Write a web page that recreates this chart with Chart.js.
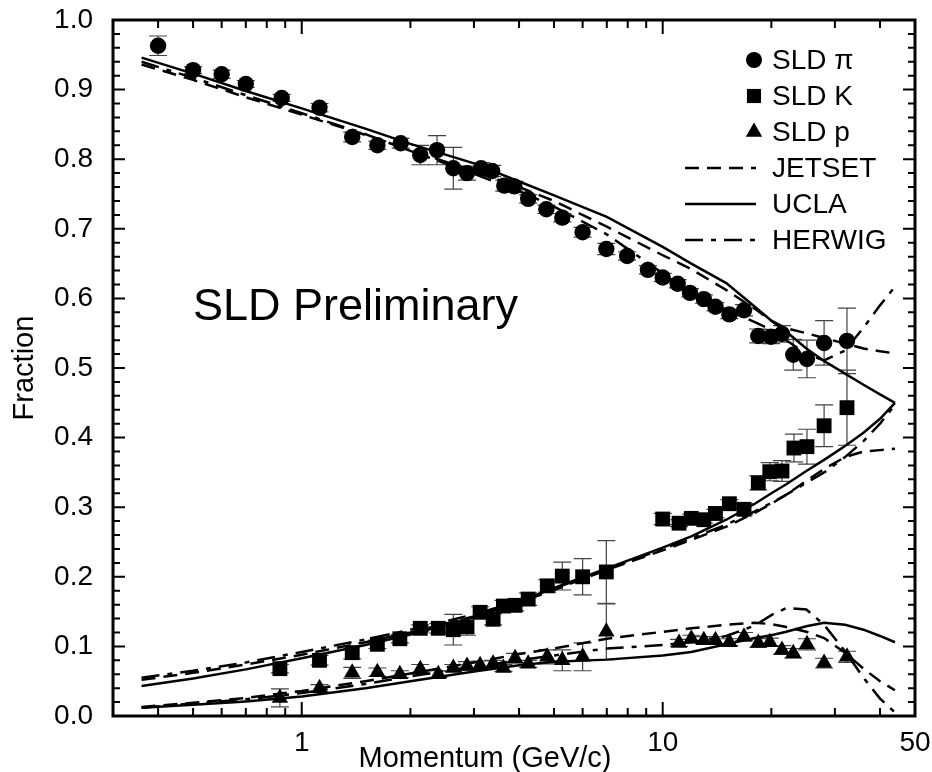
<!DOCTYPE html>
<html>
<head>
<meta charset="utf-8">
<script src="https://cdn.jsdelivr.net/npm/chart.js@4.4.1/dist/chart.umd.min.js"></script>
<style>
  body { margin: 0; background: #fff; }
  canvas { display: block; }
</style>
</head>
<body>
<canvas id="fractionChart" width="932" height="772"></canvas>
<script>
// SLD measured points (momentum in GeV/c, fraction, error)
const pionX = [0.4, 0.5, 0.6, 0.7, 0.88, 1.12, 1.38, 1.62, 1.88, 2.13, 2.37, 2.63, 2.87, 3.14, 3.37, 3.64, 3.88, 4.24, 4.76, 5.27, 6.0, 6.98, 7.97, 9.1, 10.0, 11.0, 11.9, 13.0, 14.0, 15.3, 16.8, 18.4, 19.95, 21.4, 23.0, 25.1, 28.0, 32.4];
const pionY = [0.963, 0.928, 0.922, 0.908, 0.888, 0.874, 0.832, 0.820, 0.823, 0.806, 0.813, 0.787, 0.780, 0.787, 0.783, 0.762, 0.761, 0.743, 0.728, 0.716, 0.695, 0.671, 0.661, 0.641, 0.630, 0.621, 0.608, 0.599, 0.588, 0.577, 0.583, 0.546, 0.545, 0.549, 0.519, 0.513, 0.536, 0.539];
const pionErr = [0.014, 0.005, 0.006, 0.005, 0.005, 0.006, 0.007, 0.006, 0.007, 0.014, 0.021, 0.030, 0.010, 0.008, 0.008, 0.008, 0.007, 0.006, 0.006, 0.006, 0.007, 0.008, 0.006, 0.006, 0.006, 0.006, 0.006, 0.006, 0.006, 0.006, 0.008, 0.010, 0.010, 0.012, 0.022, 0.027, 0.032, 0.047];

const kaonX = [0.87, 1.12, 1.38, 1.62, 1.87, 2.13, 2.39, 2.63, 2.87, 3.12, 3.39, 3.62, 3.9, 4.24, 4.79, 5.27, 6.0, 6.98, 10.0, 11.1, 12.0, 13.0, 14.0, 15.3, 16.8, 18.4, 19.8, 21.4, 23.1, 25.1, 28.0, 32.4];
const kaonY = [0.068, 0.080, 0.091, 0.103, 0.111, 0.126, 0.126, 0.124, 0.128, 0.149, 0.139, 0.158, 0.159, 0.168, 0.187, 0.201, 0.200, 0.207, 0.283, 0.277, 0.284, 0.282, 0.291, 0.305, 0.297, 0.335, 0.351, 0.352, 0.385, 0.387, 0.417, 0.443];
const kaonErr = [0.006, 0.007, 0.009, 0.006, 0.006, 0.005, 0.007, 0.022, 0.012, 0.008, 0.008, 0.008, 0.008, 0.009, 0.009, 0.020, 0.026, 0.045, 0.008, 0.005, 0.006, 0.005, 0.006, 0.006, 0.008, 0.010, 0.013, 0.015, 0.020, 0.025, 0.030, 0.054];

const protonX = [0.87, 1.12, 1.38, 1.62, 1.87, 2.13, 2.39, 2.63, 2.87, 3.12, 3.39, 3.62, 3.9, 4.24, 4.79, 5.27, 6.0, 6.98, 11.1, 12.0, 13.0, 14.0, 15.3, 16.8, 18.4, 19.8, 21.4, 23.0, 25.1, 28.0, 32.4];
const protonY = [0.026, 0.040, 0.062, 0.063, 0.060, 0.067, 0.060, 0.069, 0.072, 0.073, 0.075, 0.069, 0.083, 0.075, 0.085, 0.080, 0.085, 0.121, 0.105, 0.111, 0.109, 0.109, 0.106, 0.114, 0.105, 0.106, 0.095, 0.090, 0.103, 0.076, 0.085];
const protonErr = [0.013, 0.005, 0.008, 0.006, 0.005, 0.007, 0.005, 0.005, 0.006, 0.006, 0.005, 0.005, 0.007, 0.005, 0.010, 0.015, 0.020, 0.040, 0.005, 0.005, 0.005, 0.005, 0.005, 0.006, 0.006, 0.006, 0.006, 0.007, 0.008, 0.007, 0.008];

// model curves
const modelX = [0.36, 0.5, 0.7, 1, 1.5, 2, 3, 4, 5, 7, 10, 12, 15, 18, 20, 22, 25, 28, 32, 36, 40, 44];
const jetsetPi = [0.936, 0.914, 0.889, 0.864, 0.835, 0.813, 0.783, 0.760, 0.740, 0.703, 0.662, 0.642, 0.612, 0.585, 0.568, 0.557, 0.550, 0.543, 0.535, 0.528, 0.524, 0.521];
const jetsetK = [0.052, 0.062, 0.074, 0.088, 0.106, 0.120, 0.143, 0.163, 0.181, 0.210, 0.238, 0.253, 0.272, 0.292, 0.305, 0.318, 0.338, 0.355, 0.372, 0.380, 0.382, 0.384];
const jetsetP = [0.013, 0.019, 0.026, 0.036, 0.050, 0.061, 0.077, 0.089, 0.097, 0.111, 0.121, 0.126, 0.131, 0.134, 0.132, 0.128, 0.121, 0.112, 0.091, 0.068, 0.050, 0.037];
const uclaPi = [0.946, 0.923, 0.898, 0.873, 0.844, 0.822, 0.794, 0.768, 0.748, 0.717, 0.674, 0.650, 0.622, 0.588, 0.568, 0.552, 0.528, 0.510, 0.492, 0.476, 0.462, 0.450];
const uclaK = [0.043, 0.054, 0.067, 0.083, 0.102, 0.117, 0.142, 0.164, 0.184, 0.212, 0.242, 0.258, 0.282, 0.305, 0.320, 0.333, 0.352, 0.368, 0.388, 0.407, 0.427, 0.450];
const uclaP = [0.012, 0.016, 0.021, 0.028, 0.040, 0.050, 0.064, 0.073, 0.078, 0.081, 0.087, 0.092, 0.103, 0.112, 0.116, 0.121, 0.129, 0.134, 0.131, 0.124, 0.115, 0.106];
const herwigPi = [0.940, 0.917, 0.892, 0.866, 0.836, 0.812, 0.779, 0.754, 0.732, 0.692, 0.636, 0.607, 0.584, 0.566, 0.555, 0.540, 0.520, 0.511, 0.525, 0.558, 0.590, 0.617];
const herwigK = [0.055, 0.065, 0.077, 0.092, 0.110, 0.124, 0.146, 0.165, 0.183, 0.211, 0.240, 0.255, 0.275, 0.294, 0.306, 0.318, 0.335, 0.350, 0.372, 0.395, 0.420, 0.447];
const herwigP = [0.012, 0.018, 0.024, 0.033, 0.046, 0.057, 0.071, 0.080, 0.087, 0.097, 0.102, 0.106, 0.115, 0.130, 0.145, 0.155, 0.153, 0.131, 0.093, 0.055, 0.025, 0.005];

// axis ticks
const xLabelTicks = [1, 10, 50];
const xMajorTicks = [1, 10];
const xMinorTicks = [0.4, 0.5, 0.6, 0.7, 0.8, 0.9, 2, 3, 4, 5, 6, 7, 8, 9, 20, 30, 40];

const FONT = 'Liberation Sans, Arial, Helvetica, sans-serif';
const JETSET_DASH = [14, 8];
const HERWIG_DASH = [18, 8, 5, 8];

function pts(xs, ys) {
    return xs.map((x, i) => ({ x: x, y: ys[i] }));
}

function pointSet(label, xs, ys, errs, style, radius) {
    return {
        label: label,
        data: pts(xs, ys),
        errorBars: errs,
        showLine: false,
        pointStyle: style,
        pointRadius: radius,
        pointHoverRadius: radius,
        backgroundColor: '#000',
        borderColor: '#000',
        borderWidth: 0
    };
}

function modelSet(label, ys, dash) {
    return {
        label: label,
        data: pts(modelX, ys),
        showLine: true,
        pointRadius: 0,
        borderColor: '#000',
        borderWidth: 2.5,
        borderDash: dash,
        tension: 0,
        fill: false
    };
}

// error bars under the markers
const errorBars = {
    id: 'errorBars',
    beforeDatasetsDraw(chart) {
        const { ctx, scales: { x, y } } = chart;
        ctx.save();
        ctx.strokeStyle = '#444';
        ctx.lineWidth = 1.2;
        chart.data.datasets.forEach(ds => {
            if (!ds.errorBars) return;
            ds.data.forEach((p, i) => {
                const px = x.getPixelForValue(p.x);
                const top = y.getPixelForValue(p.y + ds.errorBars[i]);
                const bot = y.getPixelForValue(p.y - ds.errorBars[i]);
                ctx.beginPath();
                ctx.moveTo(px, top); ctx.lineTo(px, bot);
                ctx.moveTo(px - 9, top); ctx.lineTo(px + 9, top);
                ctx.moveTo(px - 9, bot); ctx.lineTo(px + 9, bot);
                ctx.stroke();
            });
        });
        ctx.restore();
    }
};

// box frame, inward ticks, titles, legend
const frame = {
    id: 'frame',
    afterDraw(chart) {
        const { ctx, chartArea: a, scales: { x, y } } = chart;
        ctx.save();
        ctx.strokeStyle = '#000';
        ctx.lineWidth = 2;
        ctx.beginPath();
        for (let i = 0; i <= 50; i++) {
            const py = y.getPixelForValue(i / 50);
            const len = i % 5 === 0 ? 12 : 7;
            ctx.moveTo(a.left, py); ctx.lineTo(a.left + len, py);
            ctx.moveTo(a.right, py); ctx.lineTo(a.right - len, py);
        }
        xMinorTicks.concat(xMajorTicks).forEach(v => {
            const px = x.getPixelForValue(v);
            const len = xMajorTicks.includes(v) ? 14 : 8;
            ctx.moveTo(px, a.bottom); ctx.lineTo(px, a.bottom - len);
            ctx.moveTo(px, a.top); ctx.lineTo(px, a.top + len);
        });
        ctx.stroke();
        ctx.lineWidth = 3;
        ctx.strokeRect(a.left, a.top, a.right - a.left, a.bottom - a.top);

        ctx.fillStyle = '#000';
        ctx.textAlign = 'center';
        ctx.textBaseline = 'alphabetic';
        ctx.font = '29px ' + FONT;
        ctx.fillText('Momentum (GeV/c)', 485, 767);

        ctx.save();
        ctx.translate(33, 368);
        ctx.rotate(-Math.PI / 2);
        ctx.font = '29px ' + FONT;
        ctx.fillText('Fraction', 0, 0);
        ctx.restore();

        ctx.textAlign = 'left';
        ctx.font = '45px ' + FONT;
        ctx.fillText('SLD Preliminary', 193, 320);

        // legend
        const rows = [
            { text: 'SLD \u03c0', style: 'circle', r: 8 },
            { text: 'SLD K', style: 'rect', r: 10 },
            { text: 'SLD p', style: 'triangle', r: 9.5 },
            { text: 'JETSET', dash: JETSET_DASH },
            { text: 'UCLA', dash: [] },
            { text: 'HERWIG', dash: HERWIG_DASH }
        ];
        ctx.font = '28px ' + FONT;
        ctx.textBaseline = 'middle';
        rows.forEach((row, i) => {
            const cy = 60 + i * 36;
            if (row.style) {
                Chart.helpers.drawPoint(ctx, { pointStyle: row.style, radius: row.r, rotation: 0, borderWidth: 0 }, 754, cy);
            } else {
                ctx.save();
                ctx.lineWidth = 2.5;
                ctx.setLineDash(row.dash);
                ctx.beginPath();
                ctx.moveTo(685, cy); ctx.lineTo(756, cy);
                ctx.stroke();
                ctx.restore();
            }
            ctx.fillText(row.text, 772, cy + 1);
        });
        ctx.restore();
    }
};

new Chart(document.getElementById('fractionChart'), {
    type: 'scatter',
    data: {
        datasets: [
            pointSet('SLD \u03c0', pionX, pionY, pionErr, 'circle', 8.2),
            pointSet('SLD K', kaonX, kaonY, kaonErr, 'rect', 10.5),
            pointSet('SLD p', protonX, protonY, protonErr, 'triangle', 9.5),
            modelSet('JETSET \u03c0', jetsetPi, JETSET_DASH),
            modelSet('JETSET K', jetsetK, JETSET_DASH),
            modelSet('JETSET p', jetsetP, JETSET_DASH),
            modelSet('UCLA \u03c0', uclaPi, []),
            modelSet('UCLA K', uclaK, []),
            modelSet('UCLA p', uclaP, []),
            modelSet('HERWIG \u03c0', herwigPi, HERWIG_DASH),
            modelSet('HERWIG K', herwigK, HERWIG_DASH),
            modelSet('HERWIG p', herwigP, HERWIG_DASH)
        ]
    },
    options: {
        responsive: false,
        animation: false,
        layout: { padding: { left: 0, top: 20, right: 17, bottom: 0 } },
        plugins: {
            legend: { display: false },
            tooltip: { enabled: false }
        },
        scales: {
            x: {
                type: 'logarithmic',
                min: 0.3,
                max: 50,
                grid: { display: false, drawTicks: false },
                border: { display: false },
                afterBuildTicks: s => { s.ticks = xLabelTicks.map(v => ({ value: v })); },
                afterFit: s => { s.height = 56; s.paddingLeft = 0; s.paddingRight = 0; },
                ticks: {
                    autoSkip: false,
                    maxRotation: 0,
                    padding: 10,
                    color: '#000',
                    font: { size: 28, family: FONT },
                    callback: v => String(v)
                }
            },
            y: {
                min: 0,
                max: 1,
                grid: { display: false, drawTicks: false },
                border: { display: false },
                afterFit: s => { s.width = 113; s.paddingTop = 0; s.paddingBottom = 0; },
                ticks: {
                    stepSize: 0.1,
                    padding: 20,
                    color: '#000',
                    font: { size: 28, family: FONT },
                    callback: v => v.toFixed(1)
                }
            }
        }
    },
    plugins: [errorBars, frame]
});
</script>
</body>
</html>
